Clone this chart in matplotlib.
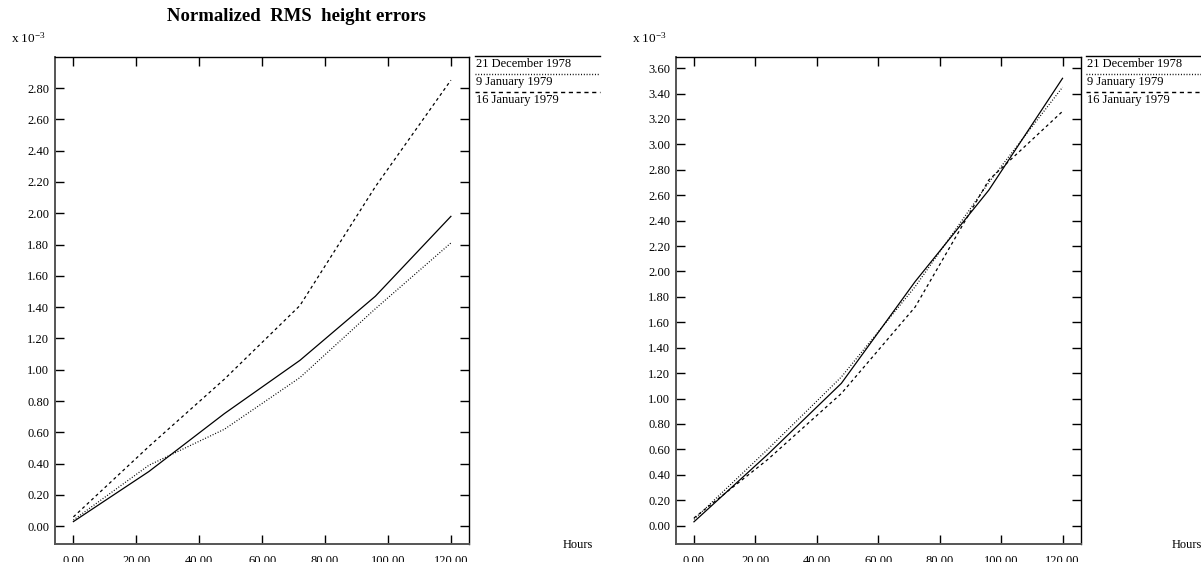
import matplotlib
matplotlib.use("Agg")
import matplotlib.pyplot as plt
from matplotlib.lines import Line2D

# ---------------- data ----------------
hours = [0, 24, 48, 72, 96, 120]

left_dec21 = [0.03, 0.35, 0.72, 1.06, 1.47, 1.98]
left_jan9 = [0.04, 0.39, 0.62, 0.95, 1.39, 1.81]
left_jan16 = [0.06, 0.51, 0.94, 1.41, 2.17, 2.85]

right_dec21 = [0.03, 0.56, 1.12, 1.92, 2.64, 3.52]
right_jan9 = [0.05, 0.60, 1.17, 1.88, 2.70, 3.45]
right_jan16 = [0.06, 0.52, 1.04, 1.72, 2.72, 3.26]

series_labels = ["21 December 1978", "9 January 1979", "16 January 1979"]
title_text = "Normalized  RMS  height errors"
x_ticks = [0, 20, 40, 60, 80, 100, 120]
left_y_ticks = [i * 0.2 for i in range(15)]
right_y_ticks = [i * 0.2 for i in range(19)]

# ---------------- style ----------------
plt.rcParams['font.family'] = ['Liberation Serif', 'DejaVu Serif']
plt.rcParams['mathtext.fontset'] = 'stix'
plt.rcParams['lines.scale_dashes'] = False

W, H = 1201, 562
fig = plt.figure(figsize=(W / 100, H / 100), dpi=100)


def fx(px):
    return px / W


def fy(py):
    return 1 - py / H


styles = [
    dict(linestyle='-', linewidth=0.9),
    dict(linestyle=(0, (0.7, 1.3)), linewidth=0.9),
    dict(linestyle=(0, (2.2, 2.2)), linewidth=0.9),
]
legend_styles = [
    dict(linestyle='-', linewidth=1.0),
    dict(linestyle=(0, (0.7, 1.3)), linewidth=1.0),
    dict(linestyle=(0, (3.0, 2.6)), linewidth=1.0),
]


def make_panel(l_px, r_px, ylim, yticks, data, leg_x0, leg_x1, xlab_x, exp_x):
    top_px, bot_px = 56.7, 544.3
    ax = fig.add_axes([fx(l_px), fy(bot_px), fx(r_px) - fx(l_px), fy(top_px) - fy(bot_px)])
    for vals, st in zip(data, styles):
        ax.plot(hours, vals, color='black', **st)
    ax.set_xlim(-5.85, 125.85)
    ax.set_ylim(*ylim)
    ax.set_xticks(x_ticks)
    ax.set_xticklabels(['%.2f' % v for v in x_ticks])
    ax.set_yticks(yticks)
    ax.set_yticklabels(['%.2f' % v for v in yticks])
    ax.tick_params(axis='both', direction='in', length=6.8, width=1.0,
                   top=True, right=True, labelsize=9, color='black')
    ax.tick_params(axis='y', pad=4.2)
    ax.tick_params(axis='x', pad=8.0)
    for side in ['top', 'right']:
        ax.spines[side].set_linewidth(1.0)
        ax.spines[side].set_color('black')
    for side in ['left', 'bottom']:
        ax.spines[side].set_linewidth(1.4)
        ax.spines[side].set_color('#555555')
    # legend drawn in figure space
    line_ys = [56.0, 74.0, 92.0]
    for yy, lab, st in zip(line_ys, series_labels, legend_styles):
        fig.add_artist(Line2D([fx(leg_x0), fx(leg_x1)], [fy(yy), fy(yy)],
                              color='black', transform=fig.transFigure, **st))
        fig.text(fx(leg_x0 + 1), fy(yy + 10.8), lab, fontsize=9,
                 ha='left', va='baseline')
    fig.text(fx(xlab_x), fy(548), 'Hours', fontsize=9, ha='left', va='baseline')
    fig.text(fx(exp_x), fy(44), r'x 10$^{\mathregular{-3}}$', fontsize=9.5,
             ha='left', va='baseline')
    return ax


make_panel(55.0, 469.3, (-0.115, 3.0), left_y_ticks,
           [left_dec21, left_jan9, left_jan16], 475, 600, 563, 11)
make_panel(676.0, 1080.5, (-0.147, 3.69), right_y_ticks,
           [right_dec21, right_jan9, right_jan16], 1086, 1201, 1172, 632)

fig.text(fx(296), fy(21), title_text, fontsize=13.5, fontweight='bold',
         ha='center', va='baseline')

fig.savefig('out.png', dpi=100)
